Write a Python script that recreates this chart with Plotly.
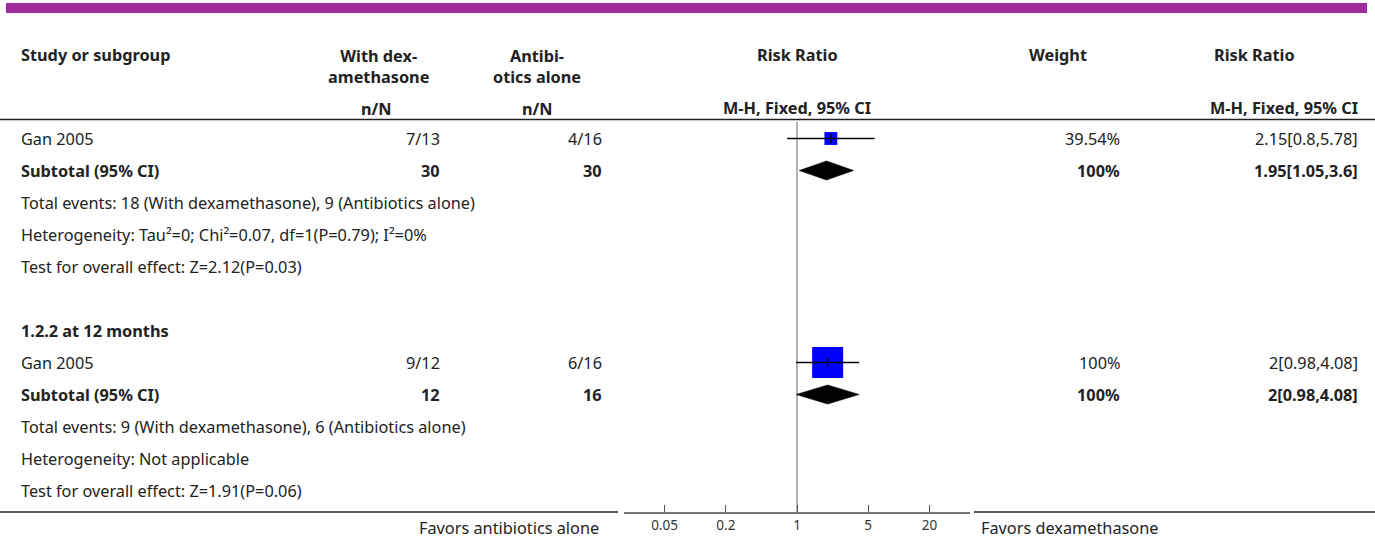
import plotly.graph_objects as go
import math

# ---------------- data ----------------
row_labels = [
    "Gan 2005",
    "Subtotal (95% CI)",
    "Total events: 18 (With dexamethasone), 9 (Antibiotics alone)",
    "Heterogeneity: Tau²=0; Chi²=0.07, df=1(P=0.79); I²=0%",
    "Test for overall effect: Z=2.12(P=0.03)",
    "",
    "1.2.2 at 12 months",
    "Gan 2005",
    "Subtotal (95% CI)",
    "Total events: 9 (With dexamethasone), 6 (Antibiotics alone)",
    "Heterogeneity: Not applicable",
    "Test for overall effect: Z=1.91(P=0.06)",
]
bold_rows = [1, 6, 8]
dex_col = ["7/13", "30", "", "", "", "", "", "9/12", "12", "", "", ""]
abx_col = ["4/16", "30", "", "", "", "", "", "6/16", "16", "", "", ""]
weight_col = ["39.54%", "100%", "", "", "", "", "", "100%", "100%", "", "", ""]
rr_col = ["2.15[0.8,5.78]", "1.95[1.05,3.6]", "", "", "", "", "",
          "2[0.98,4.08]", "2[0.98,4.08]", "", "", ""]

study_rows = [0, 7]
study_rr = [2.15, 2.0]
study_lo = [0.8, 0.98]
study_hi = [5.78, 4.08]
study_weight = [39.54, 100.0]

sub_rows = [1, 8]
sub_rr = [1.95, 2.0]
sub_lo = [1.05, 0.98]
sub_hi = [3.6, 4.08]

tick_vals = [0.05, 0.2, 1, 5, 20]
tick_text = ["0.05", "0.2", "1", "5", "20"]
axis_min, axis_max = 0.02, 50

# ---------------- layout helpers ----------------
W, H = 1375, 540
ROW0, ROWH = 138.5, 32.0
AXIS_PX = 512
FONT = "Noto Sans"
FS = 16.3
TXT = "#222222"

def px(x):
    return x / W

def py(y):
    return 1 - y / H

fig = go.Figure()

# reference line at RR = 1
fig.add_shape(type="line", xref="x", yref="paper", x0=1, x1=1,
              y0=py(AXIS_PX), y1=py(122), line=dict(color="#9a9a9a", width=1.5),
              layer="below")

# squares
fig.add_trace(go.Scatter(x=study_rr, y=study_rows, mode="markers",
                         marker=dict(symbol="square", color="#0000ff", opacity=1,
                                     size=[1 + 30 * w / 100 for w in study_weight],
                                     line=dict(width=0)),
                         hoverinfo="skip", showlegend=False))
# CI lines and point-estimate ticks drawn above the squares
TH = 0.15
for r, est, lo, hi in zip(study_rows, study_rr, study_lo, study_hi):
    fig.add_shape(type="line", xref="x", yref="y", x0=lo, x1=hi, y0=r, y1=r,
                  line=dict(color="black", width=1.5), layer="above")
    fig.add_shape(type="line", xref="x", yref="y", x0=est, x1=est, y0=r - TH, y1=r + TH,
                  line=dict(color="black", width=1.5), layer="above")
# diamonds
DH = 0.3
for r, est, lo, hi in zip(sub_rows, sub_rr, sub_lo, sub_hi):
    fig.add_trace(go.Scatter(x=[lo, est, hi, est, lo], y=[r, r - DH, r, r + DH, r],
                             mode="lines", fill="toself", fillcolor="black",
                             line=dict(color="black", width=0.5),
                             hoverinfo="skip", showlegend=False))

# ---------------- text ----------------
ann = []

def add_text(x, y, text, anchor="left", bold=False, yref="y", size=FS):
    t = f"<b>{text}</b>" if bold else text
    ann.append(dict(x=px(x), xref="paper", y=y, yref=yref, text=t,
                    xanchor=anchor, yanchor="middle", showarrow=False,
                    font=dict(family=FONT, size=size, color=TXT)))

for i, lab in enumerate(row_labels):
    b = i in bold_rows
    if lab:
        add_text(19, i, lab, "left", b)
    if dex_col[i]:
        add_text(442, i, dex_col[i], "right", b)
    if abx_col[i]:
        add_text(604, i, abx_col[i], "right", b)
    if weight_col[i]:
        add_text(1122, i, weight_col[i], "right", b)
    if rr_col[i]:
        add_text(1360, i, rr_col[i], "right", b)

# header
add_text(19, py(55), "Study or subgroup", "left", True, "paper")
add_text(378, py(66), "With dex-<br>amethasone", "center", True, "paper")
add_text(376, py(109), "n/N", "center", True, "paper")
add_text(537, py(66), "Antibi-<br>otics alone", "center", True, "paper")
add_text(537, py(109), "n/N", "center", True, "paper")
add_text(797, py(55), "Risk Ratio", "center", True, "paper")
add_text(797, py(108), "M-H, Fixed, 95% CI", "center", True, "paper")
add_text(1058, py(55), "Weight", "center", True, "paper")
add_text(1254, py(55), "Risk Ratio", "center", True, "paper")
add_text(1360, py(108), "M-H, Fixed, 95% CI", "right", True, "paper")

# footer
add_text(601, py(528), "Favors antibiotics alone", "right", False, "paper")
add_text(979, py(528), "Favors dexamethasone", "left", False, "paper")

# decorative shapes
shapes = [
    dict(type="rect", xref="paper", yref="paper", x0=px(6), x1=px(1367),
         y0=py(13), y1=py(3), fillcolor="#9e2a9c", line=dict(width=0), layer="below"),
    dict(type="line", xref="paper", yref="paper", x0=0, x1=1, y0=py(119.5), y1=py(119.5),
         line=dict(color="#222222", width=1.5)),
    dict(type="line", xref="paper", yref="paper", x0=0, x1=px(618), y0=py(AXIS_PX), y1=py(AXIS_PX),
         line=dict(color="#222222", width=1.5)),
    dict(type="line", xref="paper", yref="paper", x0=px(974), x1=1, y0=py(AXIS_PX), y1=py(AXIS_PX),
         line=dict(color="#222222", width=1.5)),
]
for s in shapes:
    fig.add_shape(**s)

y_top = (0 - ROW0) / ROWH
y_bot = (AXIS_PX - ROW0) / ROWH

fig.update_layout(
    width=W, height=H, autosize=False,
    margin=dict(l=0, r=0, t=0, b=0),
    paper_bgcolor="white", plot_bgcolor="white",
    showlegend=False,
    annotations=ann,
    xaxis=dict(type="log", range=[math.log10(axis_min), math.log10(axis_max)],
               domain=[px(624), px(970)], tickvals=tick_vals, ticktext=tick_text,
               ticks="inside", ticklen=7, tickcolor="#555555", tickwidth=1,
               showline=True, linecolor="#777777", linewidth=2,
               showgrid=False, zeroline=False, fixedrange=True,
               tickfont=dict(family=FONT, size=13.5, color="#333333")),
    yaxis=dict(range=[y_bot, y_top], domain=[1 - AXIS_PX / H, 1],
               visible=False, showgrid=False, zeroline=False, fixedrange=True),
)

fig.write_html("out.html")
